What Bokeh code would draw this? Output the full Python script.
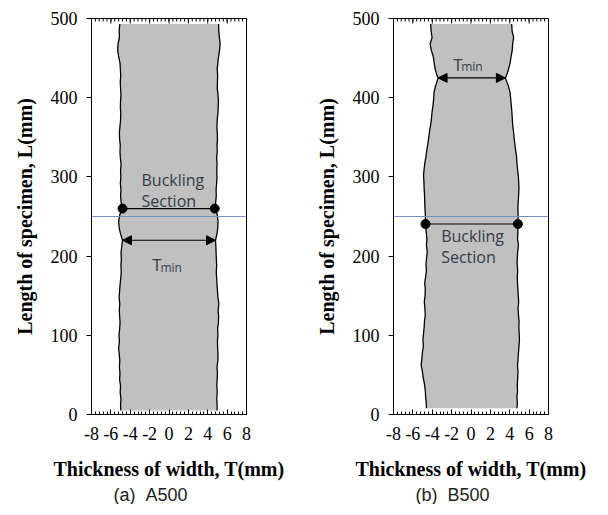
from bokeh.plotting import figure
from bokeh.layouts import row
from bokeh.models import LinearAxis, FixedTicker, Span, Arrow, NormalHead, Title, Range1d
from bokeh.core.properties import value
from bokeh.embed import file_html
from bokeh.resources import INLINE

# ---------------- data ----------------
x_ticks = [-8, -6, -4, -2, 0, 2, 4, 6, 8]
x_minor_ticks = [-8 + 0.4 * i for i in range(41)]
y_ticks = [0, 100, 200, 300, 400, 500]

# Specimen A500: length position and left/right edge of the width profile (mm)
L_a = [5, 12, 20, 28, 36, 44, 52, 60, 68, 76, 84, 92, 100, 108, 116, 124, 132, 140, 148, 156,
       164, 172, 180, 188, 196, 204, 212, 220, 228, 236, 244, 252, 260, 268, 276, 284, 292, 300,
       308, 316, 324, 332, 340, 348, 356, 364, 372, 380, 388, 396, 404, 412, 420, 428, 436, 444,
       452, 460, 468, 476, 484, 493]
left_a = [-4.97, -5.00, -4.96, -5.04, -5.00, -5.10, -5.06, -5.12, -5.08, -5.14, -5.20, -5.12, -5.16,
          -5.10, -5.05, -5.10, -5.13, -5.08, -5.15, -5.10, -5.05, -4.98, -4.93, -4.96, -4.92, -4.95,
          -4.88, -4.80, -5.00, -5.15, -5.20, -5.08, -4.85, -4.94, -5.00, -4.96, -5.02, -4.97, -5.00,
          -4.95, -5.02, -5.06, -5.03, -5.10, -5.12, -5.06, -5.00, -4.98, -5.02, -5.00, -4.96, -5.00,
          -5.03, -4.98, -5.02, -5.06, -5.20, -5.30, -5.26, -5.12, -5.14, -5.08]
right_a = [4.95, 4.97, 4.93, 4.98, 4.94, 4.97, 5.00, 4.96, 5.04, 5.06, 5.02, 5.00, 5.05, 5.02, 5.10,
           5.12, 5.08, 5.14, 5.05, 5.00, 4.96, 4.92, 4.88, 4.92, 4.89, 4.86, 4.84, 4.80, 4.95, 5.04,
           5.06, 4.98, 4.75, 4.82, 4.88, 4.86, 4.92, 4.95, 4.93, 4.96, 4.92, 4.98, 4.96, 5.00, 4.98,
           4.95, 4.98, 5.04, 5.08, 5.10, 5.06, 4.98, 5.00, 5.02, 4.98, 5.04, 5.12, 5.22, 5.28, 5.20,
           5.14, 5.12]

# Specimen B500
L_b = [8, 15, 22, 30, 38, 46, 54, 62, 70, 78, 86, 94, 102, 110, 118, 126, 134, 142, 150, 158, 166,
       174, 182, 190, 198, 206, 214, 222, 230, 238, 246, 254, 262, 270, 278, 286, 294, 302, 310, 318,
       326, 334, 342, 350, 358, 366, 374, 382, 390, 398, 406, 414, 420, 425, 430, 436, 444, 452, 460,
       468, 476, 484, 493]
left_b = [-4.60, -4.62, -4.68, -4.72, -4.80, -4.92, -5.02, -5.14, -5.08, -5.02, -4.92, -4.96, -4.90,
          -4.84, -4.80, -4.72, -4.76, -4.82, -4.74, -4.72, -4.78, -4.68, -4.60, -4.65, -4.58, -4.52,
          -4.60, -4.55, -4.62, -4.68, -4.70, -4.72, -4.76, -4.78, -4.80, -4.84, -4.86, -4.90, -4.84,
          -4.76, -4.64, -4.56, -4.45, -4.36, -4.28, -4.16, -4.08, -4.02, -3.92, -3.86, -3.82, -3.68,
          -3.52, -3.40, -3.56, -3.70, -3.80, -3.90, -4.10, -4.22, -4.02, -4.12, -4.16]
right_b = [4.75, 4.78, 4.74, 4.80, 4.78, 4.82, 4.85, 4.80, 4.86, 4.90, 4.95, 5.00, 4.98, 4.94, 4.96,
           4.90, 4.86, 4.92, 4.88, 4.84, 4.80, 4.78, 4.82, 4.76, 4.78, 4.82, 4.90, 4.80, 4.84, 4.84,
           4.86, 4.86, 4.84, 4.88, 4.92, 4.95, 4.92, 4.88, 4.80, 4.74, 4.70, 4.60, 4.52, 4.44, 4.38,
           4.30, 4.26, 4.22, 4.16, 4.10, 4.04, 3.88, 3.70, 3.55, 3.72, 3.88, 4.04, 4.14, 4.26, 4.30,
           4.40, 4.24, 4.20]

ref_line_L = 250
# buckling section: L, left x, right x
buck_a = [260, -4.80, 4.72]
buck_b = [240.5, -4.70, 4.84]
# Tmin: L, left x, right x
tmin_a = [220, -4.80, 4.80]
tmin_b = [425, -3.40, 3.55]

SANS = value("Open Sans")
TXT = "#333d4a"
FRAME_H = 396
PX = 500.0 / FRAME_H  # data units of L per screen pixel (for top tick lengths)


def make_panel(L, left, right, buck, tmin, buck_txt_pos, tmin_txt_pos, caption,
               border_left, border_right):
    p = figure(frame_width=155, frame_height=FRAME_H, output_backend="svg", toolbar_location=None,
               min_border_left=border_left, min_border_right=border_right, min_border_top=18,
               min_border_bottom=60, x_axis_location=None, y_axis_location=None,
               x_range=Range1d(-8, 8), y_range=Range1d(0, 500))
    p.grid.visible = False
    p.outline_line_color = "black"
    p.outline_line_width = 1
    p.background_fill_color = "white"
    p.border_fill_color = "white"

    # bottom axis
    xa = LinearAxis(ticker=FixedTicker(ticks=x_ticks, minor_ticks=x_minor_ticks),
                    axis_label="Thickness of width, T(mm)")
    xa.major_label_overrides = {t: str(t) for t in x_ticks}
    xa.major_tick_in = 5
    xa.major_tick_out = 0
    xa.minor_tick_in = 3
    xa.minor_tick_out = 0
    xa.major_label_text_font = "Liberation Serif"
    xa.major_label_text_font_size = "18px"
    xa.major_label_text_color = "black"
    xa.major_label_standoff = 12
    xa.axis_label_text_font = "Liberation Serif"
    xa.axis_label_text_font_style = "bold"
    xa.axis_label_text_font_size = "20px"
    xa.axis_label_text_color = "black"
    xa.axis_label_standoff = 15
    xa.axis_line_color = "black"
    p.add_layout(xa, "below")

    # left axis
    ya = LinearAxis(ticker=FixedTicker(ticks=y_ticks), axis_label="Length of specimen, L(mm)")
    ya.major_tick_out = 5
    ya.major_tick_in = 0
    ya.minor_tick_out = 0
    ya.minor_tick_in = 0
    ya.major_label_text_font = "Liberation Serif"
    ya.major_label_text_font_size = "18px"
    ya.major_label_text_color = "black"
    ya.major_label_standoff = 9
    ya.axis_label_text_font = "Liberation Serif"
    ya.axis_label_text_font_style = "bold"
    ya.axis_label_text_font_size = "20px"
    ya.axis_label_text_color = "black"
    ya.axis_label_standoff = 12
    p.add_layout(ya, "left")

    # caption
    cap = Title(text=caption, align="left", offset=22, standoff=0,
                text_font="Liberation Sans", text_font_size="18px",
                text_font_style="normal", text_color="#222222")
    p.add_layout(cap, "below")

    # mirrored tick marks along the top edge
    p.segment(x0=x_minor_ticks, y0=[500] * len(x_minor_ticks), x1=x_minor_ticks,
              y1=[500 - 3 * PX] * len(x_minor_ticks), line_color="black", line_width=1)
    p.segment(x0=x_ticks, y0=[500] * len(x_ticks), x1=x_ticks,
              y1=[500 - 5 * PX] * len(x_ticks), line_color="black", line_width=1)

    # specimen profile
    p.patch(left + right[::-1], L + L[::-1], fill_color="#c0c0c0", line_color=None)
    p.line(left, L, line_color="black", line_width=1.3)
    p.line(right, L, line_color="black", line_width=1.3)

    p.add_layout(Span(location=ref_line_L, dimension="width", line_color="#6f90c8", line_width=1.2))

    # buckling section
    p.line([buck[1], buck[2]], [buck[0], buck[0]], line_color="black", line_width=1.2)
    p.scatter([buck[1], buck[2]], [buck[0], buck[0]], size=9, color="black")
    p.text([buck_txt_pos[0], buck_txt_pos[0]], [buck_txt_pos[1], buck_txt_pos[2]],
           text=["Buckling", "Section"], text_font=SANS, text_font_size="16px",
           text_color=TXT, text_align="left", text_baseline="middle")

    # Tmin
    p.add_layout(Arrow(start=NormalHead(size=9, fill_color="black", line_color="black"),
                       end=NormalHead(size=9, fill_color="black", line_color="black"),
                       x_start=tmin[1], y_start=tmin[0], x_end=tmin[2], y_end=tmin[0],
                       line_color="black", line_width=1.2))
    p.text([tmin_txt_pos[0]], [tmin_txt_pos[2]], text=["T"], text_font=SANS, text_font_size="17px",
           text_color=TXT, text_align="left", text_baseline="alphabetic")
    p.text([tmin_txt_pos[1]], [tmin_txt_pos[3]], text=["min"], text_font=SANS, text_font_size="12px",
           text_color=TXT, text_align="left", text_baseline="alphabetic")
    return p


pa = make_panel(L_a, left_a, right_a, buck_a, tmin_a, [-2.84, 296, 270],
                [-1.73, -0.88, 189, 185.5], "(a)\u00a0\u00a0A500", 91, 58)
pb = make_panel(L_b, left_b, right_b, buck_b, tmin_b, [-3.08, 225, 199],
                [-1.84, -1.01, 442, 439], "(b)\u00a0\u00a0B500", 89, 50)

layout = row(pa, pb)
open("out.html", "w").write(file_html(layout, INLINE))
